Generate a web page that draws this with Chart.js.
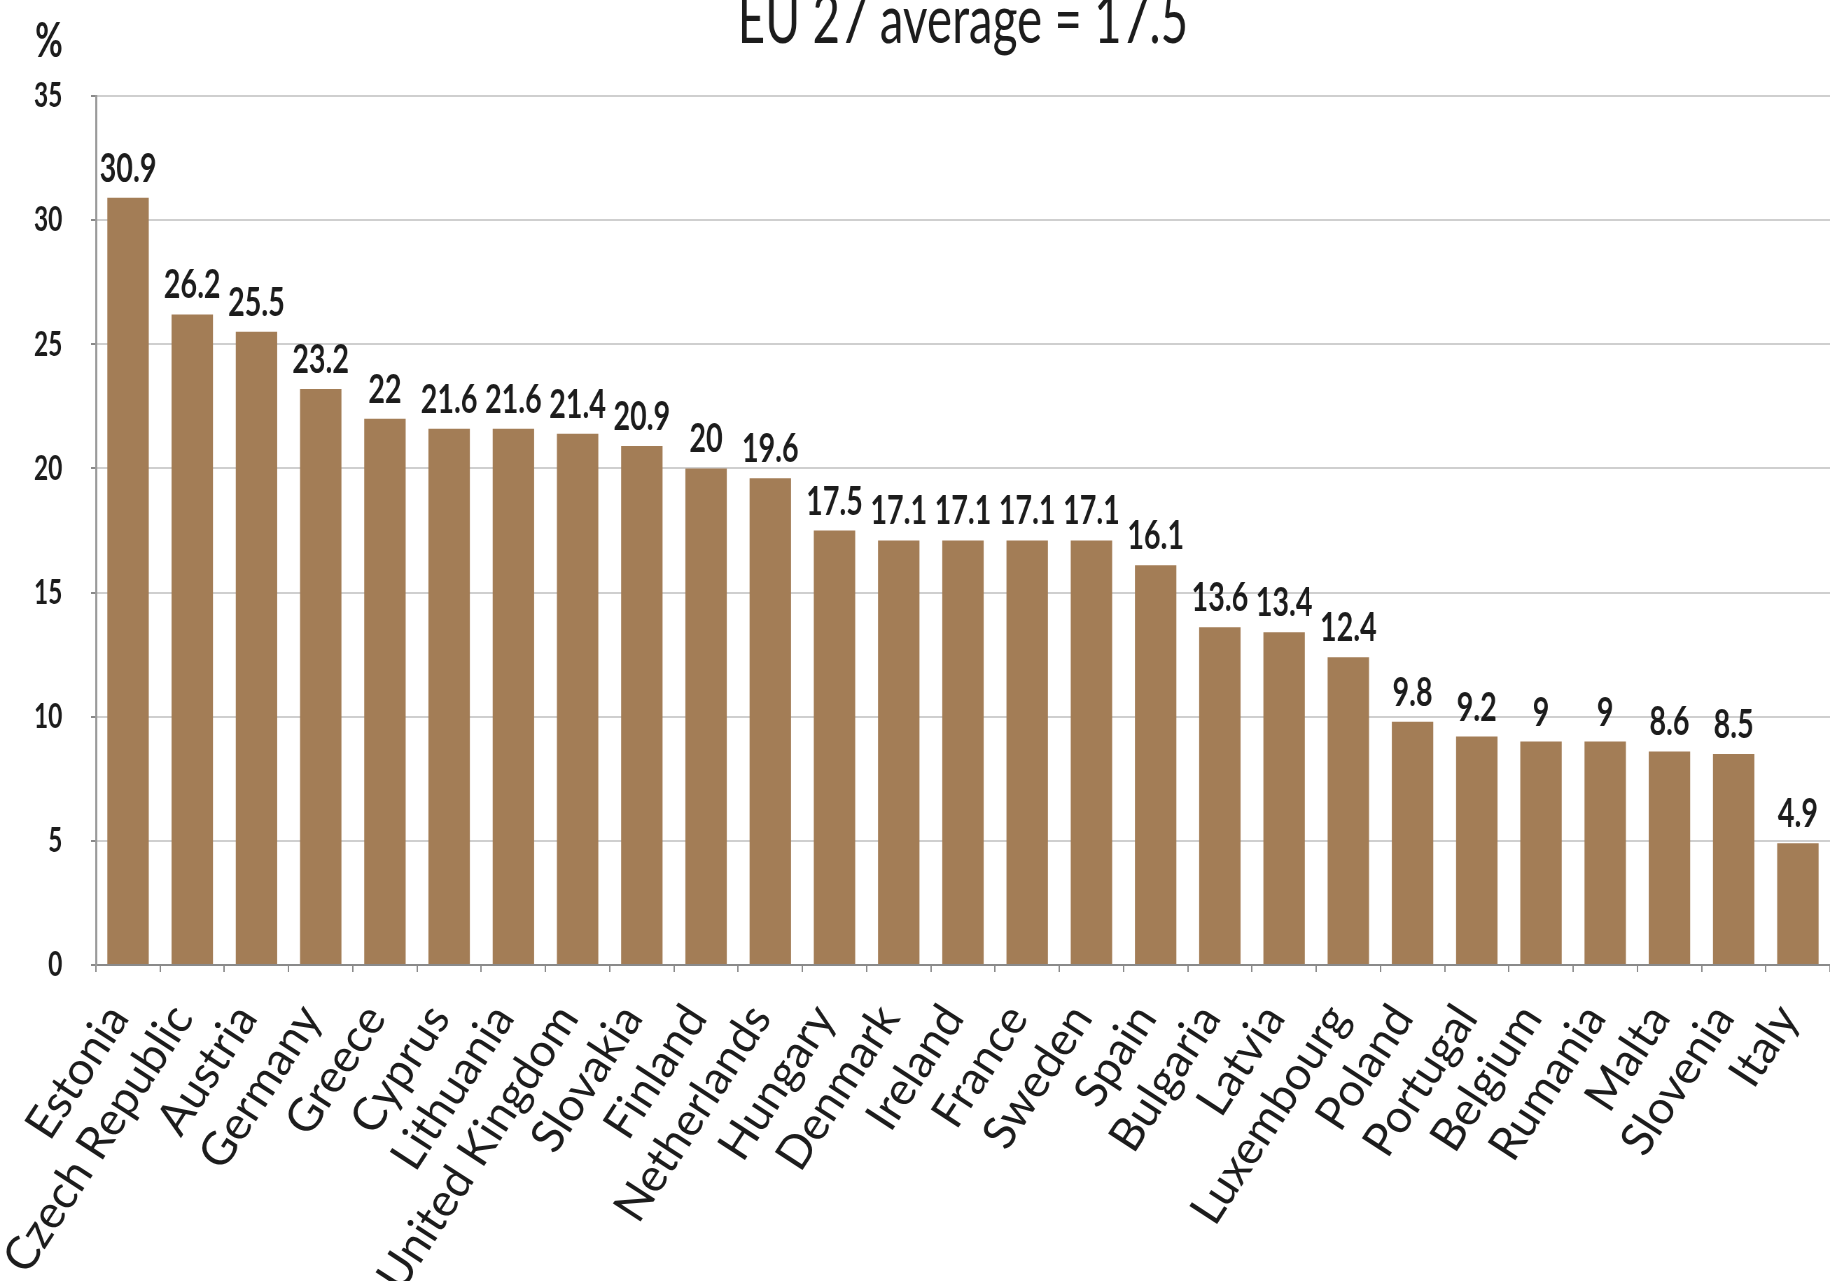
<!DOCTYPE html>
<html>
<head>
<meta charset="utf-8">
<script src="https://cdn.jsdelivr.net/npm/chart.js@4/dist/chart.umd.min.js"></script>
<style>
  html, body { margin: 0; padding: 0; background: #ffffff; overflow: hidden; }
  /* The chart is laid out on a wide canvas and shown condensed to the page width */
  #chart { display: block; width: 1830px; height: 1281px; }
</style>
</head>
<body>
<canvas id="chart" width="2614" height="1281" style="width:1830px;height:1281px"></canvas>
<script>
const countries = [
  "Estonia", "Czech Republic", "Austria", "Germany", "Greece", "Cyprus",
  "Lithuania", "United Kingdom", "Slovakia", "Finland", "Netherlands",
  "Hungary", "Denmark", "Ireland", "France", "Sweden", "Spain", "Bulgaria",
  "Latvia", "Luxembourg", "Poland", "Portugal", "Belgium", "Rumania",
  "Malta", "Slovenia", "Italy"
];
const shares = [
  30.9, 26.2, 25.5, 23.2, 22, 21.6, 21.6, 21.4, 20.9, 20, 19.6,
  17.5, 17.1, 17.1, 17.1, 17.1, 16.1, 13.6, 13.4, 12.4, 9.8, 9.2,
  9, 9, 8.6, 8.5, 4.9
];
const yTicks = [0, 5, 10, 15, 20, 25, 30, 35];
const chartTitle = "EU 27 average = 17.5";
const unitLabel = "%";

const FONT = "Lato, 'Open Sans', 'DejaVu Sans', sans-serif";
const INK = "#1c1c1c";

// Horizontal condensing applied by CSS (displayed width / canvas width)
function condense(chart) {
  return (chart.canvas.clientWidth || 1830) / chart.width;
}

// Value printed above every bar
const valueLabels = {
  id: "valueLabels",
  afterDatasetsDraw(chart) {
    const ctx = chart.ctx;
    const meta = chart.getDatasetMeta(0);
    const values = chart.data.datasets[0].data;
    ctx.save();
    ctx.font = "bold 41px " + FONT;
    ctx.fillStyle = INK;
    ctx.textAlign = "center";
    ctx.textBaseline = "alphabetic";
    meta.data.forEach((bar, i) => {
      ctx.fillText(String(values[i]), bar.x, bar.y - 16);
    });
    ctx.restore();
  }
};

// Country names under the category axis, slanted upright text
const categoryLabels = {
  id: "categoryLabels",
  afterDraw(chart) {
    const ctx = chart.ctx;
    const xs = chart.scales.x;
    const k = condense(chart);
    const angle = 57 * Math.PI / 180;
    ctx.save();
    ctx.font = "46px " + FONT;
    ctx.fillStyle = INK;
    ctx.textAlign = "right";
    ctx.textBaseline = "middle";
    chart.data.labels.forEach((name, i) => {
      ctx.save();
      ctx.translate(xs.getPixelForTick(i) - 10 / k, xs.top + 45);
      ctx.scale(1 / k, 1);
      ctx.rotate(-angle);
      ctx.fillText(name, 0, 0);
      ctx.restore();
    });
    ctx.restore();
  }
};

// Unit caption above the value axis
const unitCaption = {
  id: "unitCaption",
  afterDraw(chart) {
    const ctx = chart.ctx;
    const y = chart.scales.y;
    ctx.save();
    ctx.font = "bold 48px " + FONT;
    ctx.fillStyle = INK;
    ctx.textAlign = "center";
    ctx.textBaseline = "middle";
    ctx.fillText(unitLabel, y.left + 70, 42);
    ctx.restore();
  }
};

new Chart(document.getElementById("chart"), {
  type: "bar",
  data: {
    labels: countries,
    datasets: [{
      data: shares,
      backgroundColor: "#a37d56",
      borderWidth: 0,
      barPercentage: 0.645,
      categoryPercentage: 1.0
    }]
  },
  options: {
    responsive: false,
    devicePixelRatio: 1,
    animation: false,
    layout: { padding: 0 },
    plugins: {
      legend: { display: false },
      tooltip: { enabled: false },
      title: {
        display: true,
        text: chartTitle,
        fullSize: false,
        color: INK,
        font: { family: FONT, size: 68, weight: "normal", lineHeight: 0.5 },
        padding: { top: 4, bottom: 58 }
      }
    },
    scales: {
      x: {
        offset: true,
        grid: {
          offset: true,
          drawOnChartArea: false,
          drawTicks: true,
          tickLength: 7,
          color: "#8a8a8a",
          lineWidth: 2
        },
        border: { display: true, color: "#8a8a8a", width: 2 },
        ticks: { display: false, autoSkip: false },
        afterFit(scale) { scale.height = 316; }
      },
      y: {
        min: 0,
        max: 35,
        afterBuildTicks(scale) { scale.ticks = yTicks.map(v => ({ value: v })); },
        grid: {
          color: "#cfcfcf",
          lineWidth: 2,
          drawTicks: true,
          tickLength: 7,
          tickColor: "#8a8a8a"
        },
        border: { display: true, color: "#9a9a9a", width: 3 },
        ticks: {
          padding: 41,
          color: INK,
          font: { family: FONT, size: 35, weight: "bold" }
        },
        afterFit(scale) { scale.width = 137; }
      }
    }
  },
  plugins: [valueLabels, categoryLabels, unitCaption]
});
</script>
</body>
</html>
